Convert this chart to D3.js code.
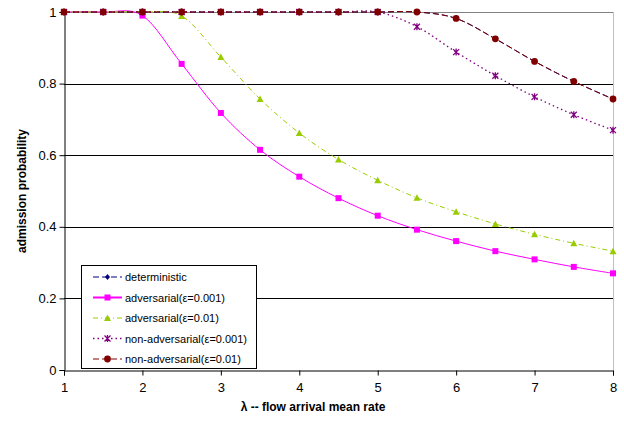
<!DOCTYPE html>
<html>
<head>
<meta charset="utf-8">
<script src="https://cdn.jsdelivr.net/npm/d3@7"></script>
<style>
  body { margin: 0; background: #fff; }
  text { font-family: "Liberation Sans", Arial, sans-serif; }
</style>
</head>
<body>
<div class="container"></div>
<script>
// admission probability vs lambda

var lambdas = [1, 1.5, 2, 2.5, 3, 3.5, 4, 4.5, 5, 5.5, 6, 6.5, 7, 7.5, 8];
// deterministic sits underneath the non-adversarial(0.01) curve in the picture
var deterministic = [1, 1, 1, 1, 1, 1, 1, 1, 1, 1, 0.982, 0.925, 0.862, 0.806, 0.757];
var adversarial001 = [1, 1, 0.99, 0.855, 0.718, 0.615, 0.54, 0.48, 0.431, 0.392, 0.36, 0.332, 0.309, 0.288, 0.27];
var adversarial01 = [1, 1, 1, 0.989, 0.874, 0.757, 0.662, 0.588, 0.53, 0.481, 0.442, 0.408, 0.379, 0.354, 0.332];
var nonAdversarial001 = [1, 1, 1, 1, 1, 1, 1, 1, 1, 0.959, 0.888, 0.822, 0.763, 0.713, 0.67];
var nonAdversarial01 = [1, 1, 1, 1, 1, 1, 1, 1, 1, 1, 0.982, 0.925, 0.862, 0.806, 0.757];
var seriesNames = ['deterministic', 'adversarial(\u03b5=0.001)', 'adversarial(\u03b5=0.01)',
                   'non-adversarial(\u03b5=0.001)', 'non-adversarial(\u03b5=0.01)'];
var xTicks = [1, 2, 3, 4, 5, 6, 7, 8];
var yTicks = [0, 0.2, 0.4, 0.6, 0.8, 1];

var opts = { width: 624, height: 423, left: 64, right: 613, top: 12, bottom: 370 };

var styles = [
  { color: '#000080', dash: '6,3', marker: 'diamond', width: 1 },
  { color: '#ff00ff', dash: null, marker: 'square', width: 1 },
  { color: '#99cc00', dash: '5,3,1,3', marker: 'triangle', width: 1 },
  { color: '#800080', dash: '1.5,3', marker: 'star', width: 1.3 },
  { color: '#800000', dash: '6,3', marker: 'circle', width: 1 }
];
var allValues = [deterministic, adversarial001, adversarial01, nonAdversarial001, nonAdversarial01];

var svg = d3.select('.container').append('svg')
            .attr('width', opts.width)
            .attr('height', opts.height);

var x = d3.scaleLinear().domain([1, 8]).range([opts.left, opts.right]);
var y = d3.scaleLinear().domain([0, 1]).range([opts.bottom, opts.top]);

// gridlines
svg.append('g').selectAll('line')
   .data(yTicks.filter(function(d){ return d > 0; }))
   .enter().append('line')
   .attr('x1', opts.left).attr('x2', opts.right)
   .attr('y1', function(d){ return Math.round(y(d)) + 0.5; })
   .attr('y2', function(d){ return Math.round(y(d)) + 0.5; })
   .attr('stroke', function(d){ return d === 1 ? '#808080' : '#000'; })
   .attr('stroke-width', 1);

// right border
svg.append('line')
   .attr('x1', opts.right + 0.5).attr('x2', opts.right + 0.5)
   .attr('y1', opts.top).attr('y2', opts.bottom)
   .attr('stroke', '#c0c0c0');

// axes
var xAxis = svg.append('g')
   .attr('transform', 'translate(0,' + (opts.bottom + 0.5) + ')')
   .call(d3.axisBottom(x).tickValues(xTicks).tickFormat(d3.format('d')).tickSizeOuter(0).tickSize(5).tickPadding(7));
var yAxis = svg.append('g')
   .attr('transform', 'translate(' + (opts.left + 0.5) + ',0)')
   .call(d3.axisLeft(y).tickValues(yTicks).tickFormat(function(d){ return d === 0 || d === 1 ? d : d3.format('.1f')(d); }).tickSizeOuter(0).tickSize(5).tickPadding(3));

[xAxis, yAxis].forEach(function(a){
  a.selectAll('path, line').attr('stroke', '#000');
  a.selectAll('text').attr('font-size', 13).attr('fill', '#000')
   .attr('font-family', '"Liberation Sans", Arial, sans-serif');
});

svg.append('text')
   .attr('x', 313).attr('y', 411)
   .attr('text-anchor', 'middle')
   .attr('font-size', 12).attr('font-weight', 'bold')
   .text('\u03bb -- flow arrival mean rate');

svg.append('text')
   .attr('transform', 'translate(26,191) rotate(-90)')
   .attr('text-anchor', 'middle')
   .attr('font-size', 12).attr('font-weight', 'bold')
   .text('admission probability');

// markers
function drawMarker(g, kind, color) {
  if (kind === 'diamond') {
    g.append('path').attr('d', 'M0,-3L2.5,0L0,3L-2.5,0Z').attr('fill', color);
  } else if (kind === 'square') {
    g.append('rect').attr('x', -3).attr('y', -3).attr('width', 6).attr('height', 6).attr('fill', color);
  } else if (kind === 'triangle') {
    g.append('path').attr('d', 'M0,-3.5L3.5,3L-3.5,3Z').attr('fill', color);
  } else if (kind === 'star') {
    g.append('path').attr('d', 'M-3,-3L3,3M-3,3L3,-3M0,-3.5L0,3.5')
     .attr('stroke', color).attr('stroke-width', 1.3).attr('fill', 'none');
  } else if (kind === 'circle') {
    g.append('circle').attr('r', 3.4).attr('fill', color);
  }
}

var line = d3.line()
  .x(function(d){ return x(d[0]); })
  .y(function(d){ return y(d[1]); })
  .curve(d3.curveCardinal.tension(0));

allValues.forEach(function(vals, i){
  var pts = lambdas.map(function(l, j){ return [l, vals[j]]; });
  var s = styles[i];
  svg.append('path')
     .datum(pts)
     .attr('d', line)
     .attr('fill', 'none')
     .attr('stroke', s.color)
     .attr('stroke-width', s.width)
     .attr('stroke-dasharray', s.dash);
  svg.append('g').selectAll('g')
     .data(pts)
     .enter().append('g')
     .attr('transform', function(d){ return 'translate(' + x(d[0]) + ',' + y(d[1]) + ')'; })
     .each(function(){ drawMarker(d3.select(this), s.marker, s.color); });
});

// legend
var legend = svg.append('g');
legend.append('rect')
   .attr('x', 81.5).attr('y', 265.5).attr('width', 175).attr('height', 103)
   .attr('fill', '#fff').attr('stroke', '#000');

seriesNames.forEach(function(name, i){
  var s = styles[i];
  var ly = 277 + i * 20.5;
  legend.append('line')
     .attr('x1', 93).attr('x2', 122).attr('y1', ly).attr('y2', ly)
     .attr('stroke', s.color).attr('stroke-width', s.marker === 'square' ? 2 : s.width)
     .attr('stroke-dasharray', s.dash);
  drawMarker(legend.append('g').attr('transform', 'translate(107.5,' + ly + ')'), s.marker, s.color);
  legend.append('text')
     .attr('x', 125).attr('y', ly + 4)
     .attr('font-size', 11)
     .text(name);
});
</script>
</body>
</html>
